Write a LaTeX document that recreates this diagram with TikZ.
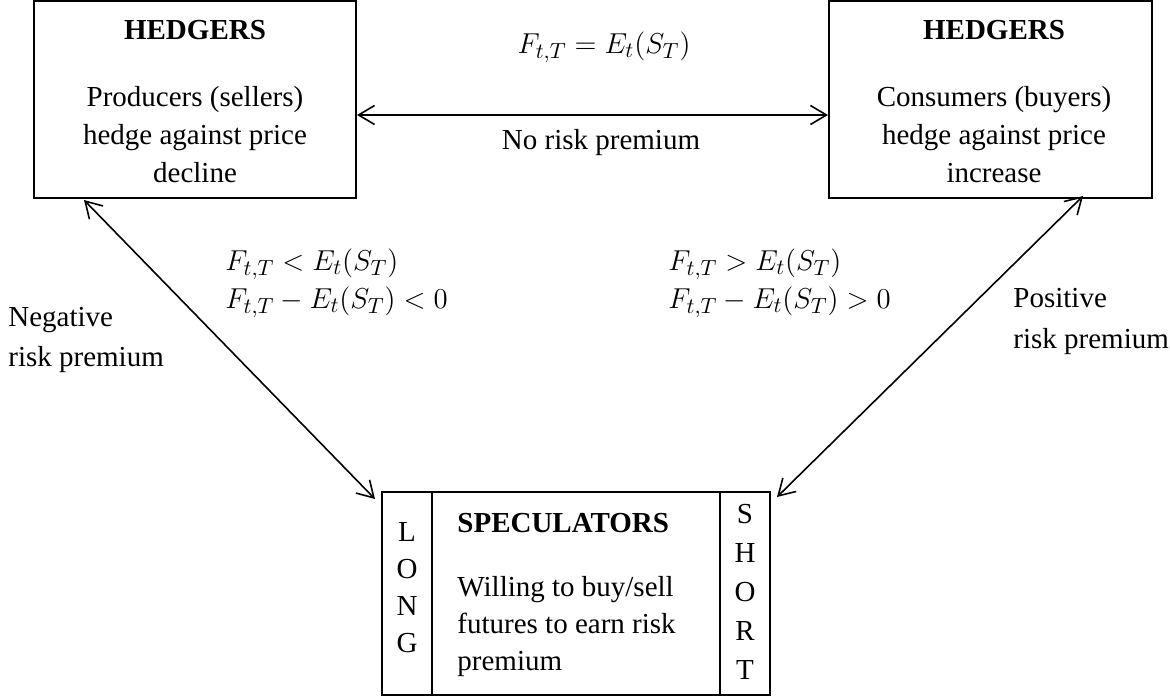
\documentclass[tikz,border=0pt]{standalone}
\usepackage{fontspec}
\setmainfont{Liberation Serif}
\usetikzlibrary{arrows.meta}
\begin{document}
\begin{tikzpicture}[x=0.5pt,y=-0.5pt,
  box/.style={draw, line width=0.75pt, inner sep=0pt, outer sep=0pt},
  txt/.style={inner sep=0pt, font=\fontsize{14.5}{19}\selectfont, align=center},
  mth/.style={inner sep=0pt, font=\fontsize{15.5}{19}\selectfont, align=left},
  arr/.style={line width=0.8pt, {Straight Barb[length=8pt,width=9.5pt]}-{Straight Barb[length=8pt,width=9.5pt]}}]
\useasboundingbox (0,0) rectangle (1170,697);
% boxes
\node[box, minimum width=161pt, minimum height=98.5pt] (L) at (195,99.5) {};
\node[box, minimum width=161.5pt, minimum height=98.5pt] (R) at (990.5,99.5) {};
\node[box, minimum width=194pt, minimum height=101.5pt] (B) at (576,593.5) {};
\draw[line width=0.75pt] ([xshift=25pt]B.north west) -- ([xshift=25pt]B.south west);
\draw[line width=0.75pt] ([xshift=-25pt]B.north east) -- ([xshift=-25pt]B.south east);
% box texts
\node[txt] (Lh) at (195,30) {\textbf{HEDGERS}};
\node[txt] (Lb) at (195,135) {Producers (sellers)\\hedge against price\\decline};
\node[txt] (Rh) at (994,30) {\textbf{HEDGERS}};
\node[txt] (Rb) at (994,135) {Consumers (buyers)\\hedge against price\\increase};
\node[txt, anchor=west] (Bh) at (457,523) {\textbf{SPECULATORS}};
\node[txt, anchor=west, align=left, font=\fontsize{14.5}{18.5}\selectfont] (Bb) at (457,627) {Willing to buy/sell\\futures to earn risk\\premium};
\node[txt, font=\fontsize{14.5}{18.5}\selectfont] (long) at (407,588) {L\\O\\N\\G};
\node[txt, font=\fontsize{14.5}{19.5}\selectfont] (short) at (745,592) {S\\H\\O\\R\\T};
% connectors
\coordinate (h1) at ([shift={(1,15.5)}]L.east);
\coordinate (h2) at ([shift={(-1,15.5)}]R.west);
\draw[arr] (h1) -- (h2);
\coordinate (l1) at ([shift={(50,2)}]L.south west);
\coordinate (l2) at ([shift={(-7,7)}]B.north west);
\draw[arr] (l1) -- (l2);
\coordinate (r1) at ([shift={(254,-2)}]R.south west);
\coordinate (r2) at ([shift={(7,5)}]B.north east);
\draw[arr] (r1) -- (r2);
% labels
\node[mth, align=center] (eq) at (604,47) {$F_{t,T} = E_t(S_T)$};
\node[txt] (nrp) at (601,143) {No risk premium};
\node[mth, anchor=west] (ml) at (225,283.5) {$F_{t,T} < E_t(S_T)$\\$F_{t,T} - E_t(S_T) < 0$};
\node[mth, anchor=west] (mr) at (668,283.5) {$F_{t,T} > E_t(S_T)$\\$F_{t,T} - E_t(S_T) > 0$};
\node[txt, anchor=west, align=left, font=\fontsize{14.5}{20}\selectfont] (neg) at (8,340) {Negative\\risk premium};
\node[txt, anchor=west, align=left, font=\fontsize{14.5}{20.5}\selectfont] (pos) at (1013,321) {Positive\\risk premium};
\end{tikzpicture}
\end{document}
